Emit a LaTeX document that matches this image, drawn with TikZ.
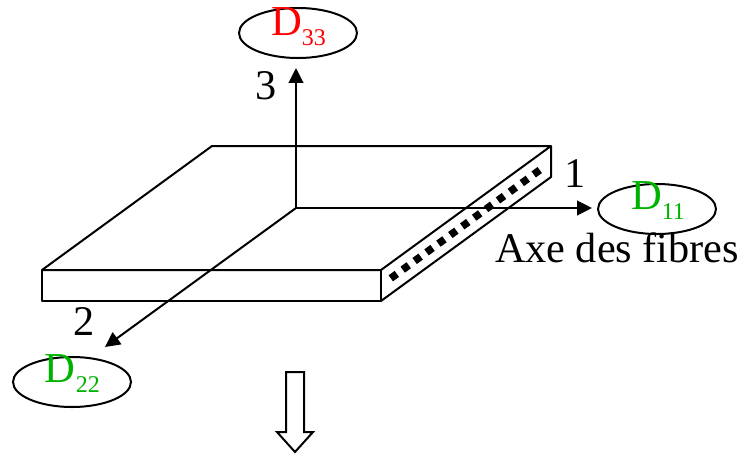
\documentclass[tikz,border=0pt]{standalone}
\usepackage{fontspec}
\setmainfont{Liberation Serif}
\usepackage{xcolor}
\usetikzlibrary{arrows.meta, positioning, shapes.geometric}
\definecolor{dgreen}{RGB}{0,178,0}
\newcommand{\dsub}[1]{{\fontsize{32}{33}\selectfont D}\raisebox{-0.24em}{\fontsize{18}{18}\selectfont #1}}

\begin{document}
\begin{tikzpicture}[x=0.75pt, y=-0.75pt, >={Triangle[length=11.2pt, width=11pt]}, line width=1.5pt, line join=round,
        axe/.style={->, line width=1.5pt},
        tenseur/.style={ellipse, draw, minimum width=88.5pt, minimum height=37.5pt, inner sep=0pt},
        lab/.style={font=\fontsize{31.7}{32}\selectfont, inner sep=0pt},
        dlab/.style={lab, anchor=base west}]
    \useasboundingbox (0,0) rectangle (740,454);

    % plaque
    \coordinate (a) at (42,270);
    \coordinate (b) at (212,146);
    \coordinate (c) at (551,146);
    \coordinate (d) at (381,270);
    \coordinate (e) at (42,301);
    \coordinate (f) at (381,301);
    \coordinate (g) at (551,177);
    \draw (a) -- (b) -- (c) -- (d) -- cycle;
    \draw (a) -- (e) -- (f) -- (d);
    \draw (f) -- (g) -- (c);

    % fibres
    \coordinate (fib1) at (390.8,278.3);
    \coordinate (fib2) at (540.2,169.7);
    \draw[line width=5.6pt, dash pattern=on 5.6pt off 5.44pt] (fib1) -- (fib2);

    % ellipses
    \node (e33) [tenseur] at (298,33) {};
    \node (e11) [tenseur] at (657,209) {};
    \node (e22) [tenseur] at (72,382) {};

    % axes
    \coordinate (o) at (296,208);
    \coordinate (x3) at (296,68);
    \coordinate (x1) at (592,208);
    \coordinate (x2) at (105,347);
    \draw[axe] (o) -- (x3);
    \draw[axe] (o) -- (x1);
    \draw[axe] (o) -- (x2);

    % textes
    \node (n3) [lab] at (266,86) {3};
    \node (n1) [lab] at (575,174) {1};
    \node (n2) [lab] at (84,322) {2};
    \node (t33) [dlab, text=red] at (270,35) {\dsub{33}};
    \node (t11) [dlab, text=dgreen] at (630,209) {\dsub{11}};
    \node (t22) [dlab, text=dgreen] at (44,382) {\dsub{22}};
    \node (fibres) [dlab] at (494,262) {Axe des fibres};

    % fleche creuse
    \draw[line join=miter] (286,372) -- (304,372) -- (304,432) -- (313,432) -- (295,452) -- (277,432) -- (286,432) -- cycle;
\end{tikzpicture}
\end{document}
